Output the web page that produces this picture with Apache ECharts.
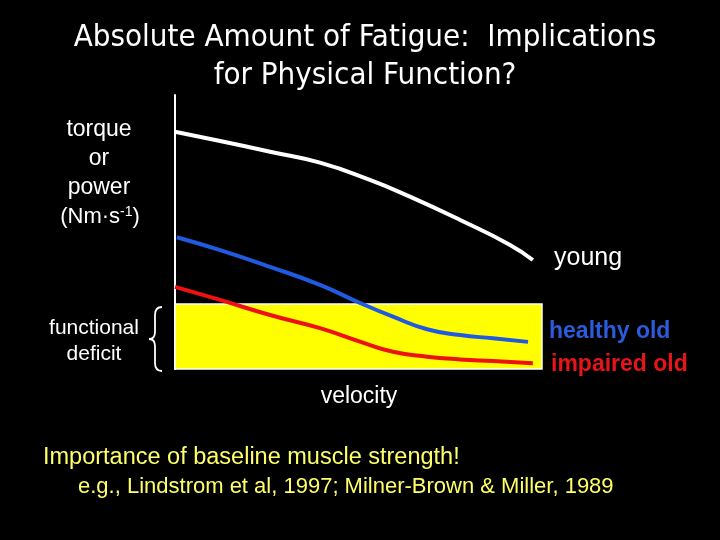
<!DOCTYPE html>
<html>
<head>
<meta charset="utf-8">
<script src="https://cdn.jsdelivr.net/npm/echarts@6/dist/echarts.min.js"></script>
<style>html,body{margin:0;padding:0;background:#000;}#c{width:720px;height:540px;}</style>
</head>
<body>
<div id="c"></div>
<script>
// velocity (0-100, arbitrary) and torque/power (0-100, arbitrary)
const youngX = [0, 12.3, 25.9, 39.5, 53.1, 64.0, 77.7, 91.3, 97.5];
const youngY = [86.6, 83.2, 79.3, 75.3, 69.0, 62.9, 54.4, 45.3, 39.8];
const healthyX = [0.5, 12.3, 25.9, 39.5, 50.4, 59.4, 68.7, 77.7, 86.6, 96.2];
const healthyY = [48.1, 43.4, 37.3, 30.7, 24.1, 19.1, 14.5, 12.4, 11.2, 9.9];
const impairedX = [0, 12.3, 25.9, 39.5, 50.4, 59.4, 68.7, 77.7, 86.6, 97.5];
const impairedY = [30.0, 25.2, 19.7, 14.9, 10.0, 6.3, 4.5, 3.5, 2.9, 2.1];
const deficitTop = 23.7;

const pair = (xs, ys) => xs.map((x, i) => [x, ys[i]]);

const chart = echarts.init(document.getElementById('c'));
const sans = 'Liberation Sans, Arial, sans-serif';
const txt = (x, y, text, font, fill, align) => ({
  type: 'text', x: x, y: y,
  style: { text: text, fill: fill || '#fff', font: font, align: align || 'left', verticalAlign: 'middle' }
});
const seg = (x1, y1, x2, y2) => ({ type: 'line', shape: { x1, y1, x2, y2 }, style: { stroke: '#fff', lineWidth: 1.8 } });
const bez = (x1, y1, cx, cy, x2, y2) => ({ type: 'bezierCurve', shape: { x1, y1, cpx1: cx, cpy1: cy, x2, y2 }, style: { stroke: '#fff', lineWidth: 1.8, fill: null } });

chart.setOption({
  backgroundColor: '#000000',
  animation: false,
  title: {
    text: 'Absolute Amount of Fatigue:  Implications\nfor Physical Function?',
    left: 365, top: 19, padding: 0, textAlign: 'center',
    textStyle: { color: '#ffffff', fontFamily: 'DejaVu Sans Condensed', fontWeight: 'normal', fontSize: 31, lineHeight: 38 }
  },
  grid: { left: 175, right: 178, top: 95, bottom: 171 },
  xAxis: { type: 'value', min: 0, max: 100,
    axisLine: { show: false }, axisTick: { show: false }, axisLabel: { show: false }, splitLine: { show: false } },
  yAxis: { type: 'value', min: 0, max: 100,
    axisLine: { show: true, lineStyle: { color: '#ffffff', width: 2 } },
    axisTick: { show: false }, axisLabel: { show: false }, splitLine: { show: false } },
  series: [
    { type: 'line', name: 'deficit', data: [], silent: true,
      markArea: { silent: true, itemStyle: { color: '#ffff00', borderColor: '#ffffff', borderWidth: 1.5 },
        data: [[{ coord: [0, 0] }, { coord: [100, deficitTop] }]] } },
    { type: 'line', name: 'young', data: pair(youngX, youngY), smooth: 0.5, symbol: 'none',
      lineStyle: { color: '#ffffff', width: 4 } },
    { type: 'line', name: 'healthy old', data: pair(healthyX, healthyY), smooth: 0.5, symbol: 'none',
      lineStyle: { color: '#1f5ae0', width: 4 } },
    { type: 'line', name: 'impaired old', data: pair(impairedX, impairedY), smooth: 0.5, symbol: 'none',
      lineStyle: { color: '#ee1111', width: 4 } }
  ],
  graphic: [
    txt(99, 130, 'torque', '23px ' + sans, '#fff', 'center'),
    txt(99, 159, 'or', '23px ' + sans, '#fff', 'center'),
    txt(99, 188, 'power', '23px ' + sans, '#fff', 'center'),
    { type: 'text', x: 100, y: 217, style: {
        text: '(Nm·s{s|-1})', fill: '#fff', font: '22px ' + sans, align: 'center', verticalAlign: 'middle',
        rich: { s: { fontSize: 14, fill: '#fff', fontFamily: sans, verticalAlign: 'top', padding: [0, 0, 10, 0] } } } },
    txt(94, 328, 'functional', '21px ' + sans, '#fff', 'center'),
    txt(94, 354, 'deficit', '21px ' + sans, '#fff', 'center'),
    bez(162, 307, 155, 307, 155, 315),
    seg(155, 315, 155, 332),
    bez(155, 332, 155, 339, 149, 339),
    bez(149, 339, 155, 339, 155, 346),
    seg(155, 346, 155, 363),
    bez(155, 363, 155, 371, 162, 371),
    txt(554, 258, 'young', '25px ' + sans),
    txt(549, 332, 'healthy old', 'bold 23px ' + sans, '#2a5cdc'),
    txt(551, 365, 'impaired old', 'bold 23px ' + sans, '#e8141c'),
    txt(359, 397, 'velocity', '23px ' + sans, '#fff', 'center'),
    txt(43, 458, 'Importance of baseline muscle strength!', '23.5px ' + sans, '#ffff66'),
    txt(78, 487, 'e.g., Lindstrom et al, 1997; Milner-Brown & Miller, 1989', '22px ' + sans, '#ffff66')
  ]
});
</script>
</body>
</html>
